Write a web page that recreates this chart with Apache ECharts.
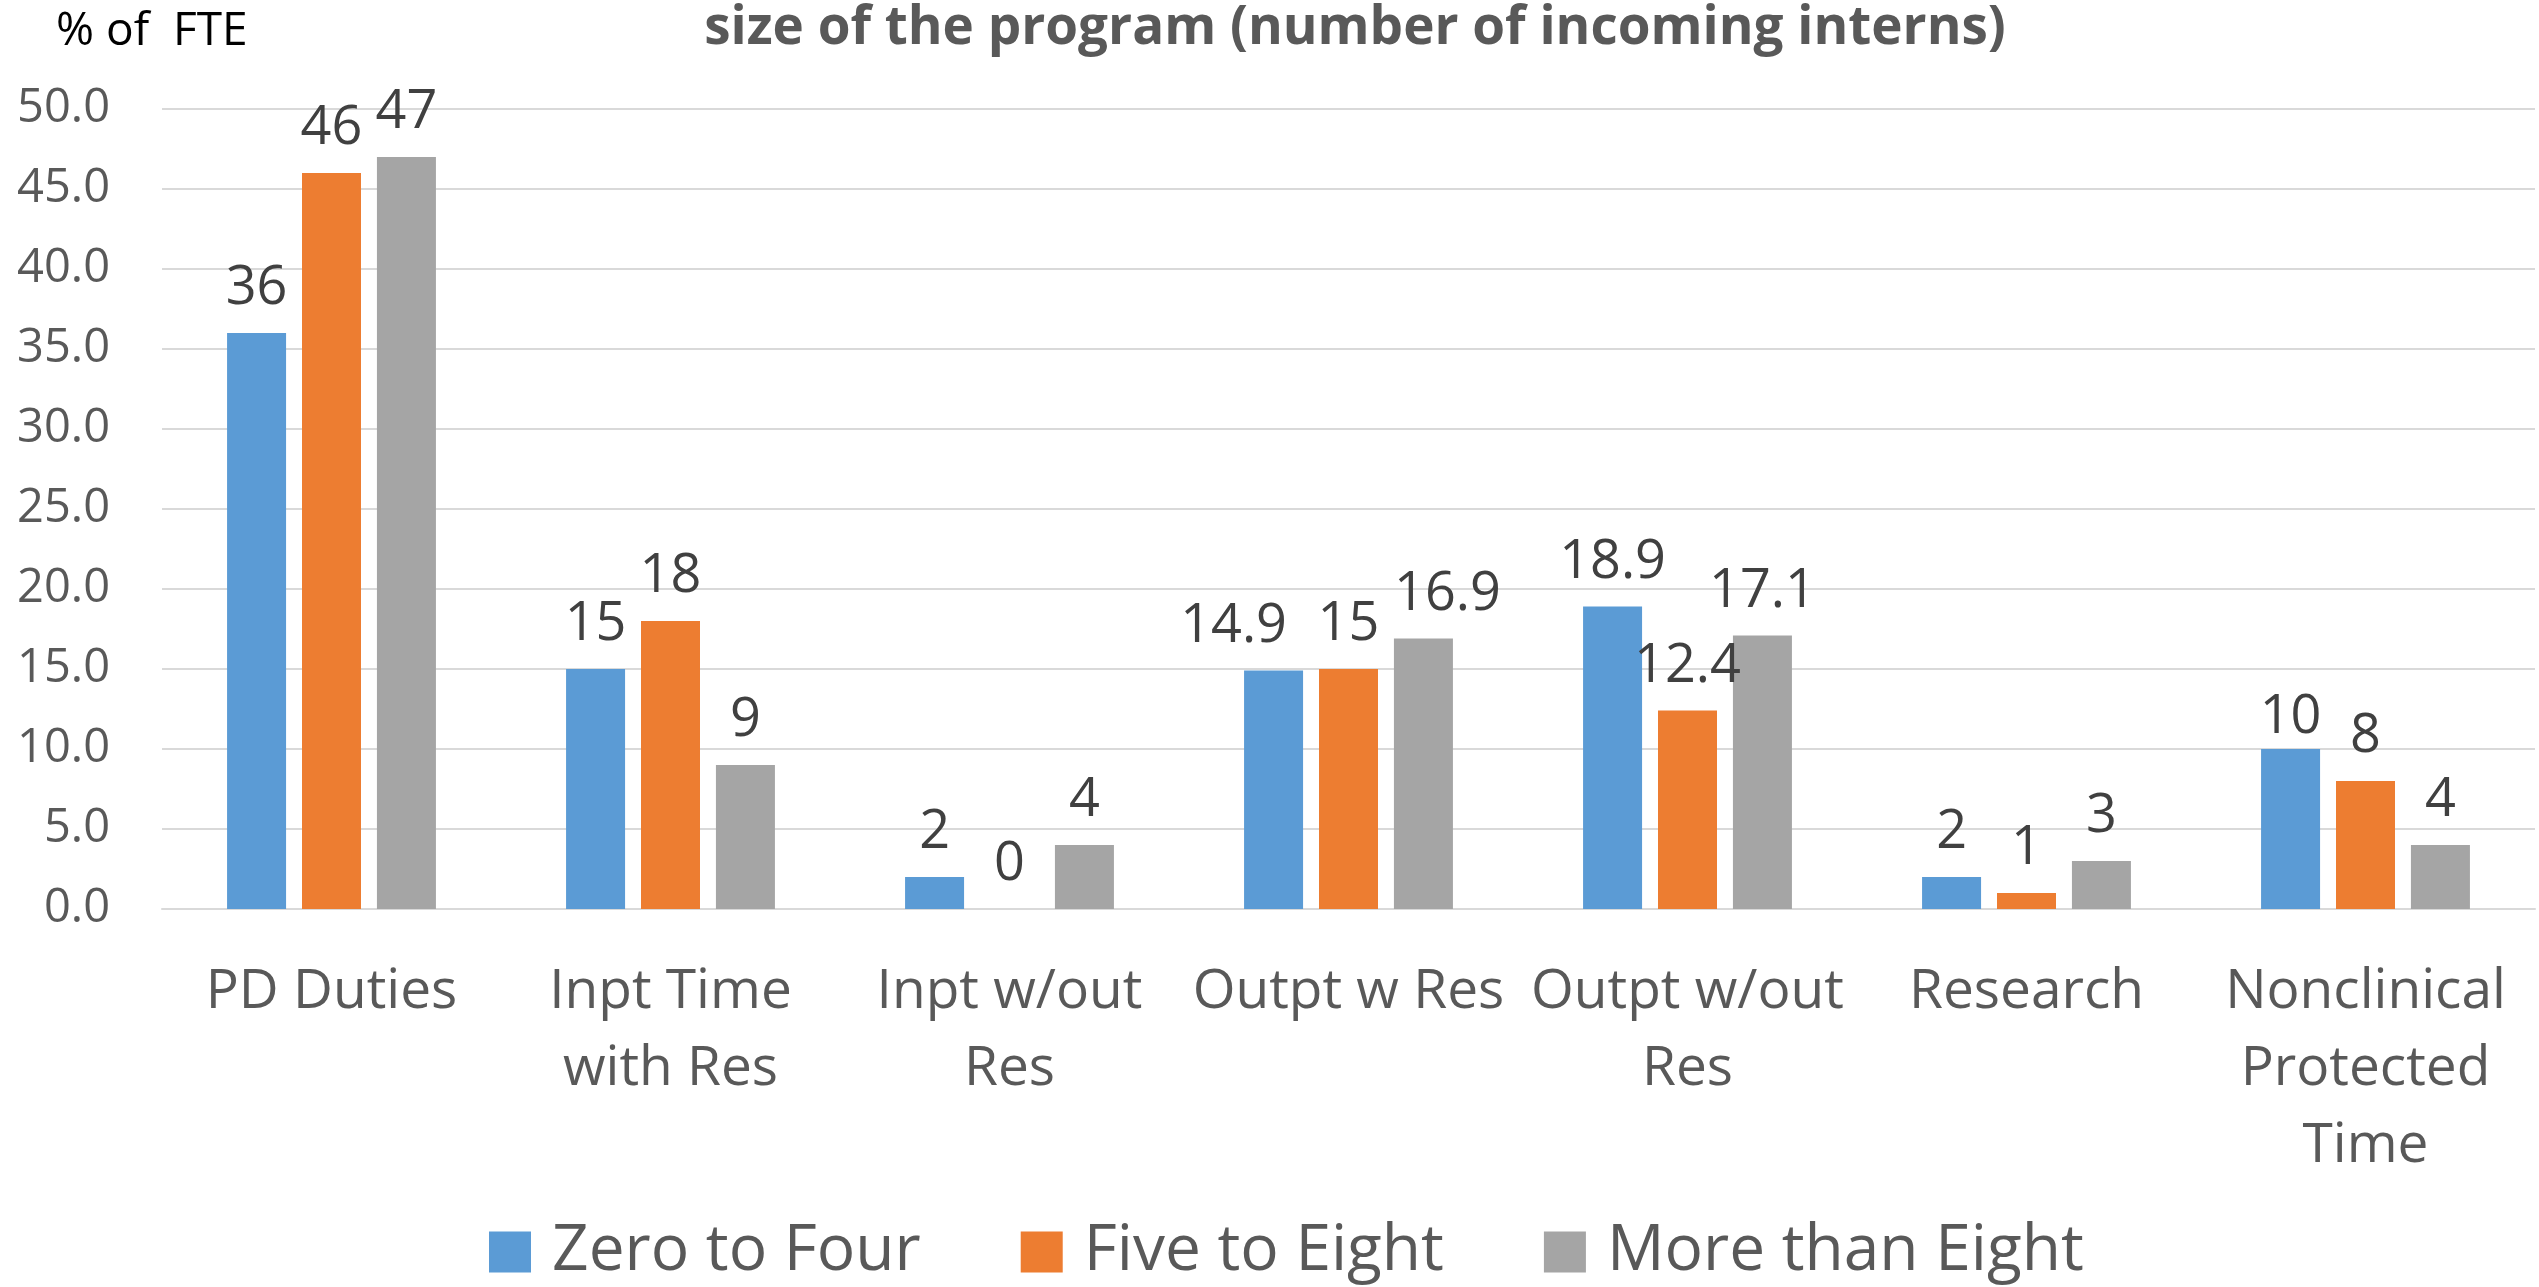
<!DOCTYPE html>
<html>
<head>
<meta charset="utf-8">
<script src="https://cdn.jsdelivr.net/npm/echarts@6/dist/echarts.min.js"></script>
<style>
html,body{margin:0;padding:0;background:#fff;}
#chart{width:2539px;height:1287px;}
</style>
</head>
<body>
<div id="chart"></div>
<script>
const categories = ['PD Duties', 'Inpt Time with Res', 'Inpt w/out Res', 'Outpt w Res', 'Outpt w/out Res', 'Research', 'Nonclinical Protected Time'];
const categoryLabels = ['PD Duties', 'Inpt Time\nwith Res', 'Inpt w/out\nRes', 'Outpt w Res', 'Outpt w/out\nRes', 'Research', 'Nonclinical\nProtected\nTime'];
const seriesNames = ['Zero to Four', 'Five to Eight', 'More than Eight'];
const zeroToFour = [36, 15, 2, 14.9, 18.9, 2, 10];
const fiveToEight = [46, 18, 0, 15, 12.4, 1, 8];
const moreThanEight = [47, 9, 4, 16.9, 17.1, 3, 4];
const yTicks = [0, 5, 10, 15, 20, 25, 30, 35, 40, 45, 50];
const titleText = 'size of the program (number of incoming interns)';
const yAxisName = '% of  FTE';

// label nudges (style only): [seriesIndex, dataIndex, dx, dy]
const labelNudges = [[0, 3, -40, 0], [2, 3, 24, 0], [0, 6, 0, 13]];

const colors = ['#5B9BD5', '#ED7D31', '#A5A5A5'];
const FONT = '"Open Sans", sans-serif';

const chart = echarts.init(document.getElementById('chart'), null, {renderer: 'canvas'});

function barSeries(si, name, data, color) {
  const items = data.map(function (v, i) {
    const n = labelNudges.find(function (q) { return q[0] === si && q[1] === i; });
    if (n) return {value: v, label: {offset: [n[2], n[3]]}};
    return v;
  });
  return {
    name: name,
    type: 'bar',
    data: items,
    barWidth: 59,
    barGap: '27%',
    itemStyle: {color: color},
    label: {
      show: true,
      position: 'top',
      distance: 17,
      fontFamily: FONT,
      fontSize: 54,
      color: '#404040'
    },
    emphasis: {disabled: true}
  };
}

chart.setOption({
  animation: false,
  backgroundColor: '#ffffff',
  title: {
    text: titleText,
    left: 1350,
    textAlign: 'center',
    top: -3,
    textStyle: {
      fontFamily: FONT,
      fontWeight: 'bold',
      fontSize: 53,
      color: '#595959'
    }
  },
  legend: {
    data: seriesNames,
    left: 484,
    top: 1215,
    itemWidth: 42,
    itemHeight: 41,
    itemGap: 100,
    icon: 'rect',
    textStyle: {
      fontFamily: FONT,
      fontSize: 64,
      color: '#595959',
      padding: [0, 0, 0, 16]
    }
  },
  grid: {
    left: 162,
    right: 4,
    top: 109,
    bottom: 378,
    containLabel: false
  },
  xAxis: {
    type: 'category',
    data: categories,
    axisTick: {show: false},
    axisLine: {show: true, lineStyle: {color: '#D9D9D9', width: 2}},
    axisLabel: {
      interval: 0,
      margin: 45,
      fontFamily: FONT,
      fontSize: 55,
      lineHeight: 77,
      color: '#595959',
      formatter: function (v, i) { return categoryLabels[i]; }
    }
  },
  yAxis: {
    type: 'value',
    min: yTicks[0],
    max: yTicks[yTicks.length - 1],
    interval: yTicks[1] - yTicks[0],
    name: yAxisName,
    nameLocation: 'end',
    nameGap: 54,
    nameTextStyle: {
      fontFamily: FONT,
      fontSize: 46,
      color: '#000000',
      align: 'left',
      padding: [0, 0, 0, -106]
    },
    axisLine: {show: false},
    axisTick: {show: false},
    splitLine: {lineStyle: {color: '#D9D9D9', width: 2}},
    axisLabel: {
      margin: 52,
      fontFamily: FONT,
      fontSize: 47,
      color: '#595959',
      formatter: function (v) { return v.toFixed(1); }
    }
  },
  series: [
    barSeries(0, seriesNames[0], zeroToFour, colors[0]),
    barSeries(1, seriesNames[1], fiveToEight, colors[1]),
    barSeries(2, seriesNames[2], moreThanEight, colors[2])
  ]
});
</script>
</body>
</html>
